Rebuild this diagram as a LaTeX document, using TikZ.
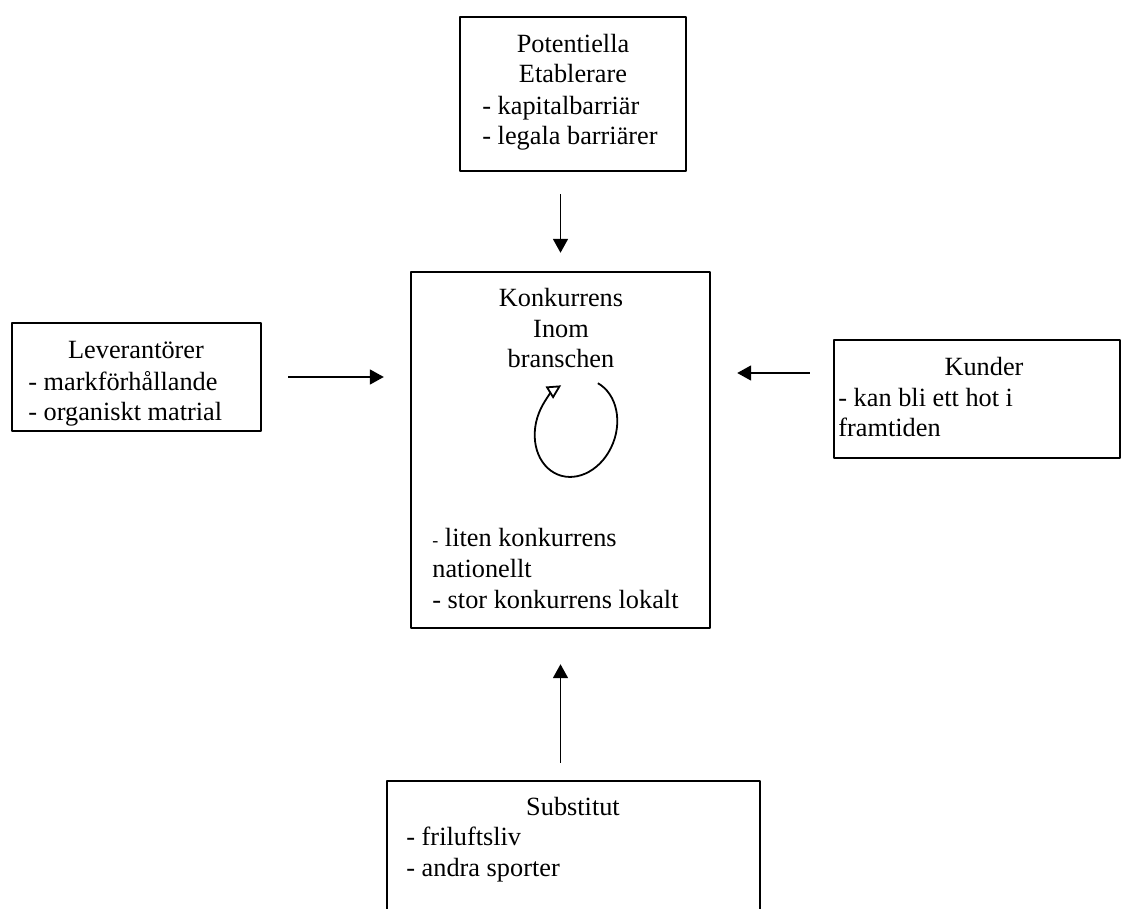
\documentclass[tikz,border=0pt]{standalone}
\usepackage{fontspec}
\setmainfont{Liberation Serif}
\usetikzlibrary{arrows.meta,fit}
\begin{document}
\begin{tikzpicture}[x=0.5pt, y=-0.5pt, font=\fontsize{13.15}{15.35}\selectfont, line join=round,
	box/.style={draw, line width=1.2pt, inner sep=0pt},
	heading/.style={inner sep=0pt, anchor=base, align=center},
	items/.style={inner sep=0pt, anchor=base west, align=left},
	force/.style={-{Triangle[length=7pt, width=7.5pt]}, line width=0.9pt}]
	\useasboundingbox (0,0) rectangle (1125,909);
	\clip (0,0) rectangle (1125,909);
	% frames
	\node[box, fit={(460,17) (686,171)}] (entrants) {};
	\node[box, fit={(12,323) (261,431)}] (suppliers) {};
	\node[box, fit={(411,272) (710,628)}] (rivalry) {};
	\node[box, fit={(834,340) (1120,458)}] (buyers) {};
	\node[box, fit={(387,781) (760,930)}] (substitutes) {};
	% texts (placed at the baseline of their last line)
	\node[heading] (entrantsT) at (573,83) {Potentiella\\Etablerare};
	\node[items] (entrantsL) at (482,145) {- kapitalbarriär\\- legala barriärer};
	\node[heading] (suppliersT) at (136,358) {Leverantörer};
	\node[items] (suppliersL) at (28,421) {- markförhållande\\- organiskt matrial};
	\node[heading] (rivalryT) at (561,368) {Konkurrens\\Inom\\branschen};
	\node[items] (rivalryL) at (432,608) {{\fontsize{9}{9}\selectfont-} liten konkurrens\\nationellt\\- stor konkurrens lokalt};
	\node[heading] (buyersT) at (984,376) {Kunder};
	\node[items] (buyersL) at (838,437) {- kan bli ett hot i\\framtiden};
	\node[heading] (substitutesT) at (573,815) {Substitut};
	\node[items] (substitutesL) at (406,876) {- friluftsliv\\- andra sporter};
	% forces
	\coordinate (buyersIn) at ([yshift=13pt]buyers.west);
	\draw[force, shorten <=11pt, shorten >=9pt] (rivalry.north |- entrants.south) -- (rivalry.north);
	\draw[force, shorten <=13pt, shorten >=13pt] (suppliers.east) -- (suppliers.east -| rivalry.west);
	\draw[force, shorten <=11.5pt, shorten >=13pt] (buyersIn) -- (buyersIn -| rivalry.east);
	\draw[force, shorten <=8.5pt, shorten >=17.5pt] (rivalry.south |- substitutes.north) -- (rivalry.south);
	% rotation
	\draw[line width=0.9pt, -{Triangle[open, length=7pt, width=7pt]}, rotate around={-20:(576,428)}]
		(576,428) ++(-82.5:40 and 50) arc[start angle=-82.5, end angle=224.5, x radius=40, y radius=50];
\end{tikzpicture}
\end{document}
